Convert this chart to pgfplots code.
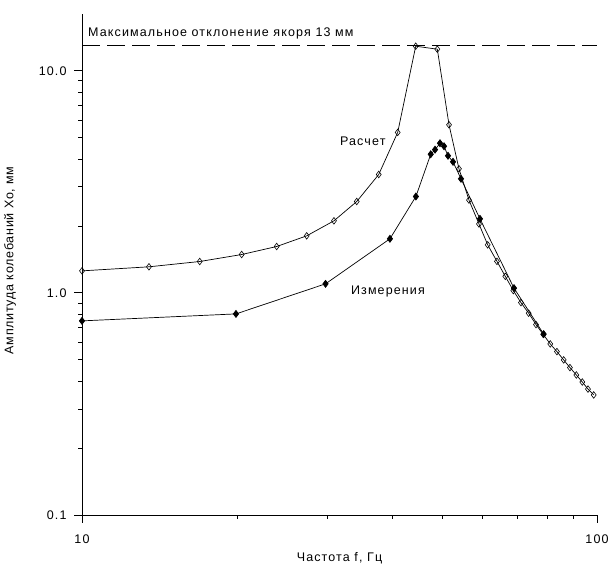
\documentclass[border=0pt]{standalone}
\usepackage{fontspec}
\setmainfont[LetterSpace=9]{Liberation Sans}
\usepackage{pgfplots}
\pgfplotsset{compat=1.18}
\usetikzlibrary{calc}
\begin{document}
\begin{tikzpicture}[font=\fontsize{12.5pt}{14pt}\selectfont]
\begin{axis}[
  name=ax,
  scale only axis,
  width=515pt, height=501pt,
  xmode=log, ymode=log,
  xmin=10, xmax=100, ymin=0.1, ymax=18,
  axis lines=left,
  axis line style={-, line width=1pt},
  tick align=outside,
  major tick length=8pt,
  minor tick length=4pt,
  tick style={black, line width=0.8pt},
  xtick={10,100}, xticklabels={10,100},
  ytick={0.1,1,10}, yticklabels={0.1,1.0,10.0},
  /pgf/number format/assume math mode=true,
  xticklabel style={yshift=-8pt},
  yticklabel style={xshift=-4pt},
  xlabel={Частота f, Гц},
  xlabel style={at={(rel axis cs:0.5,0)}, anchor=center, yshift=-43pt},
  clip=false,
]
\addplot[black, line width=0.8pt, dash pattern=on 18pt off 7pt] coordinates {(10,13) (100,13)};
\addplot[black, line width=0.7pt, mark=diamond, mark size=3.3pt, mark options={solid, fill=white, line width=0.6pt}] coordinates {
(10.0,1.256) (13.49,1.31) (16.93,1.384) (20.42,1.488) (23.88,1.617) (27.31,1.806)
(30.85,2.110) (34.16,2.578) (37.69,3.411) (41.02,5.274) (44.46,12.89) (48.97,12.50)
(51.60,5.71) (53.95,3.619) (56.42,2.616) (59.00,2.042) (61.34,1.645) (63.94,1.386)
(66.36,1.187) (68.79,1.024) (71.18,0.904) (73.68,0.810) (76.13,0.720) (78.64,0.650)
(81.14,0.589) (83.6,0.544) (86.16,0.499) (88.6,0.461) (91.18,0.427) (93.65,0.397)
(96.05,0.369) (98.54,0.347)
};
\addplot[black, line width=0.7pt, mark=diamond*, mark size=3.5pt, mark options={solid, fill=black}] coordinates {
(10.0,0.748) (19.91,0.804) (29.71,1.098) (39.63,1.751) (44.5,2.716) (47.55,4.206)
(48.47,4.41) (49.56,4.715) (50.46,4.57) (51.37,4.14) (52.53,3.89) (54.44,3.263)
(59.26,2.154) (69.0,1.05) (78.8,0.652)
};
\node[anchor=base west, inner sep=0pt] at ($(axis cs:10,13)+(6pt,8.7pt)$) {Максимальное отклонение якоря 13 мм};
\node[anchor=center] at (axis cs:35.1,4.80) {Расчет};
\node[anchor=center] at (axis cs:39.28,1.0136) {Измерения};
\end{axis}
\node[anchor=center, rotate=90] at ($(ax.south west)!0.508!(ax.north west)+(-72pt,0)$) {\addfontfeature{LetterSpace=6}Амплитуда колебаний Хо, мм};
\pgfresetboundingbox
\path[use as bounding box] ($(ax.south west)+(-82pt,-56pt)$) rectangle ($(ax.north east)+(11pt,14pt)$);
\end{tikzpicture}
\end{document}
